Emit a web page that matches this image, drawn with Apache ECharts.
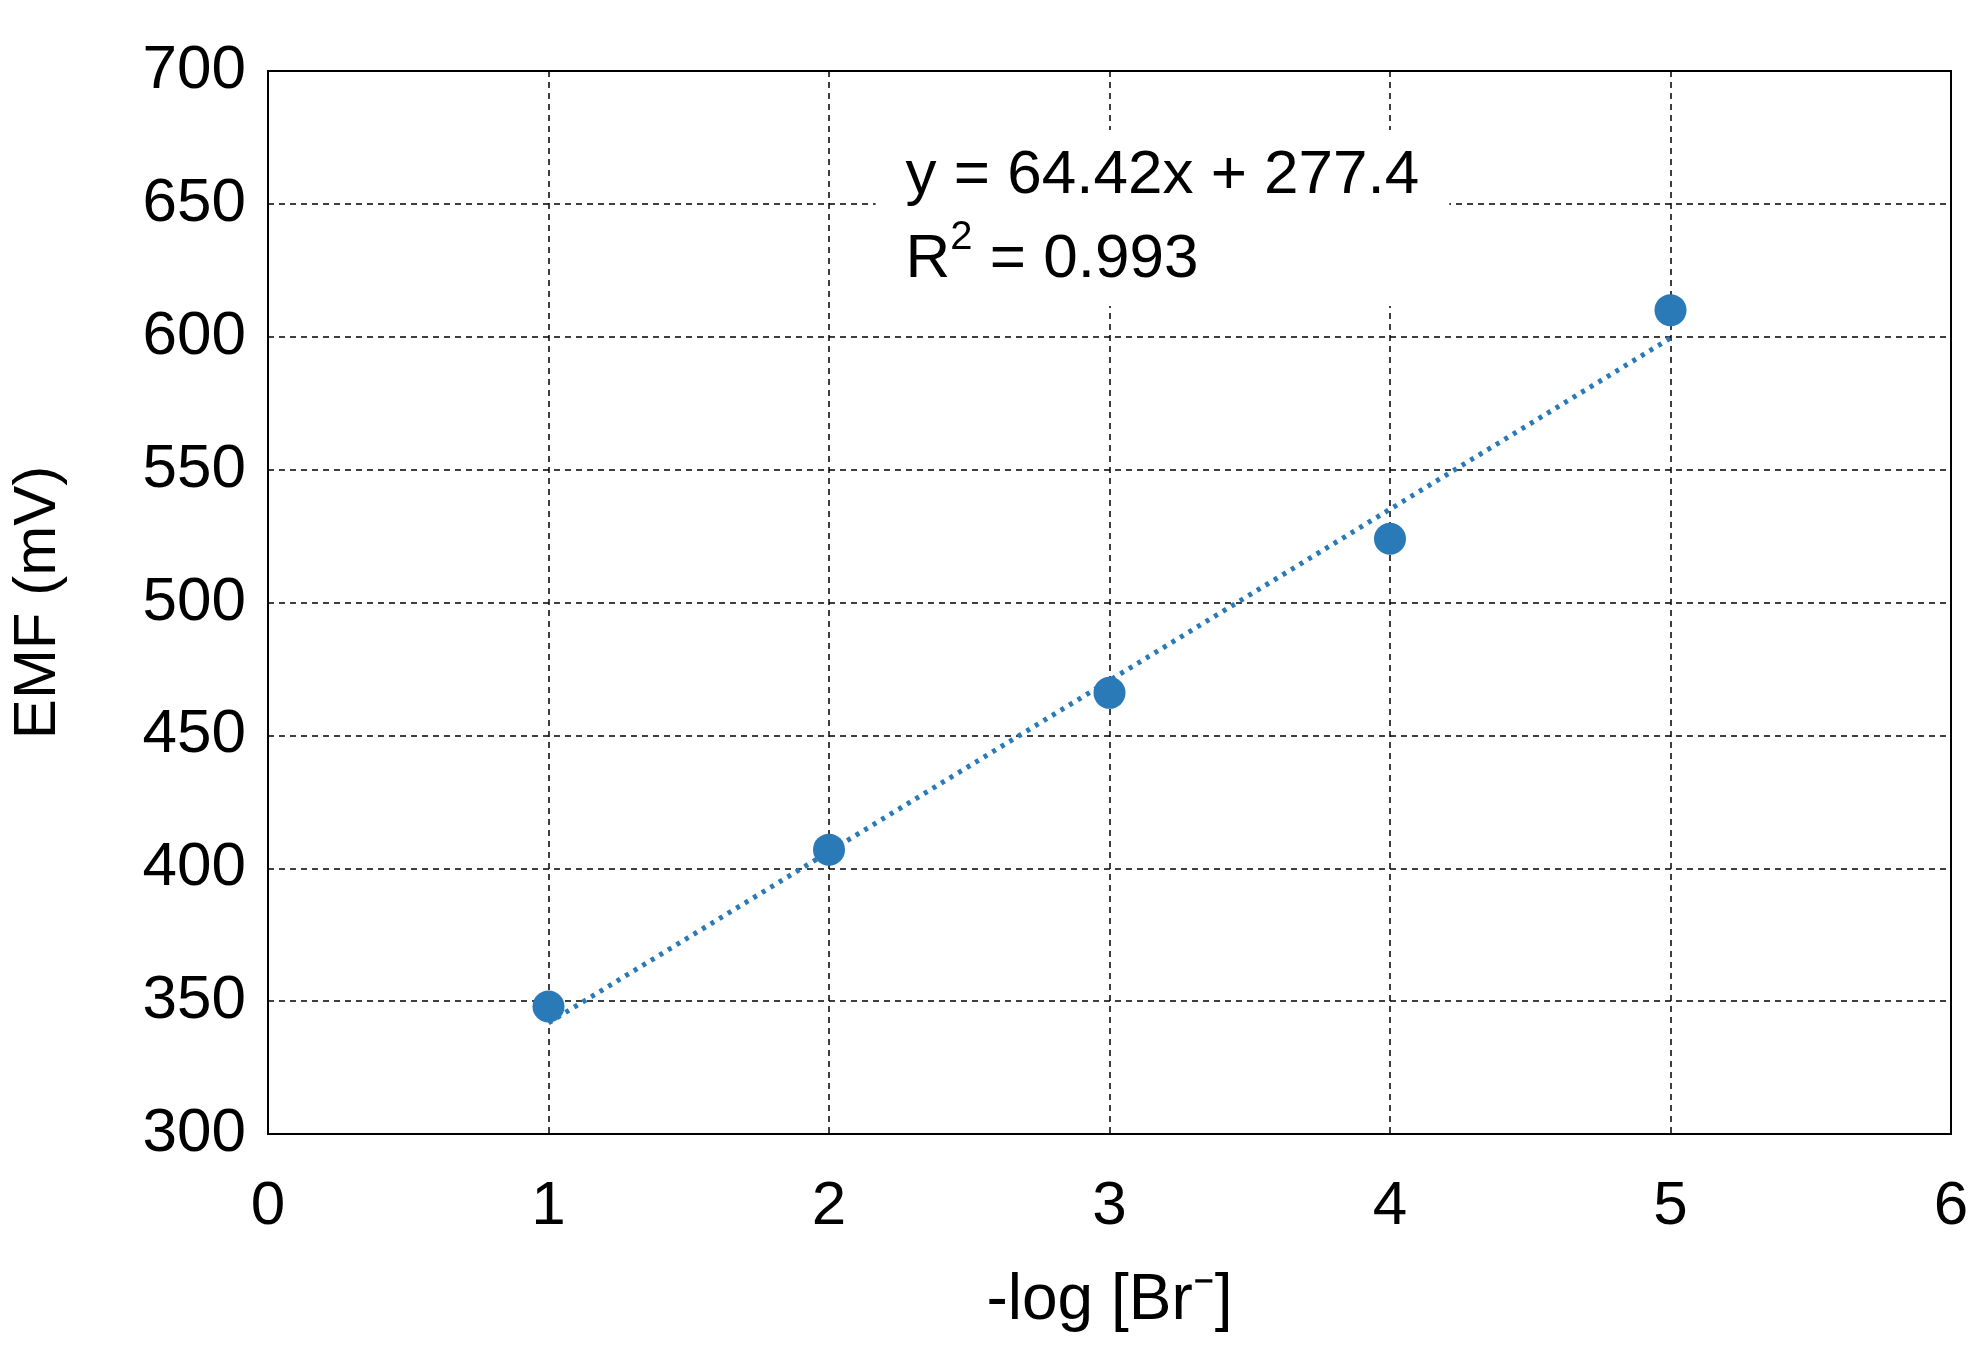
<!DOCTYPE html>
<html>
<head>
<meta charset="utf-8">
<script src="https://cdn.jsdelivr.net/npm/echarts@6/dist/echarts.min.js"></script>
<style>html,body{margin:0;padding:0;background:#fff}#main{width:1980px;height:1365px}</style>
</head>
<body>
<div id="main"></div>
<script>
var xValues = [1, 2, 3, 4, 5];
var emfValues = [348, 407, 466, 524, 610];
var slope = 64.42, intercept = 277.4;
var trendX = [1, 5];

var font = 'Liberation Sans, Arial, sans-serif';
var myChart = echarts.init(document.getElementById('main'));
var pts = xValues.map(function (x, i) { return [x, emfValues[i]]; });
var trend = trendX.map(function (x) { return [x, slope * x + intercept]; });

option = {
	backgroundColor: '#fff',
	animation: false,
	grid: { left: 264, right: 29, top: 71, bottom: 231, show: true, borderColor: '#000', borderWidth: 2 },
	xAxis: {
		type: 'value', min: 0, max: 6, interval: 1,
		name: '-log [Br⁻]', nameLocation: 'middle', nameGap: 135,
		nameTextStyle: { fontFamily: font, fontSize: 64, color: '#000' },
		axisLine: { show: false }, axisTick: { show: false },
		axisLabel: { fontFamily: font, fontSize: 62, color: '#000', margin: 42 },
		splitLine: { lineStyle: { color: '#000', type: [6, 5], width: 1.5 } }
	},
	yAxis: {
		type: 'value', min: 300, max: 700, interval: 50,
		name: 'EMF (mV)', nameLocation: 'middle', nameGap: 200,
		nameTextStyle: { fontFamily: font, fontSize: 60, color: '#000' },
		axisLine: { show: false }, axisTick: { show: false },
		axisLabel: { fontFamily: font, fontSize: 62, color: '#000', margin: 22 },
		splitLine: { lineStyle: { color: '#000', type: [6, 5], width: 1.5 } }
	},
	graphic: [{
		type: 'text', top: 130, z: 100,
		style: {
			text: '{s|y = 64.42x + 277.4}\n{s|R}{sup|2}{s| = 0.993}',
			rich: {
				s: { fontSize: 62, fontFamily: font, lineHeight: 84 },
				sup: { fontSize: 40, fontFamily: font, verticalAlign: 'top', lineHeight: 84, padding: [0, 0, 24, 0] }
			},
			fill: '#000', align: 'center',
			backgroundColor: '#fff', padding: [4, 30]
		}
	}],
	series: [{
		type: 'line', data: trend, showSymbol: false, z: 2,
		lineStyle: { color: '#2a7ab8', width: 5, type: [4, 6] }
	}, {
		type: 'scatter', data: pts, symbolSize: 32, z: 3,
		itemStyle: { color: '#2a7ab8', opacity: 1 }
	}]
};
myChart.setOption(option);
var c = myChart.convertToPixel({ xAxisIndex: 0, yAxisIndex: 0 }, [3.2, 0]);
myChart.setOption({ graphic: [{ x: c[0] - 320 + 320 - 290 }] });
</script>
</body>
</html>
